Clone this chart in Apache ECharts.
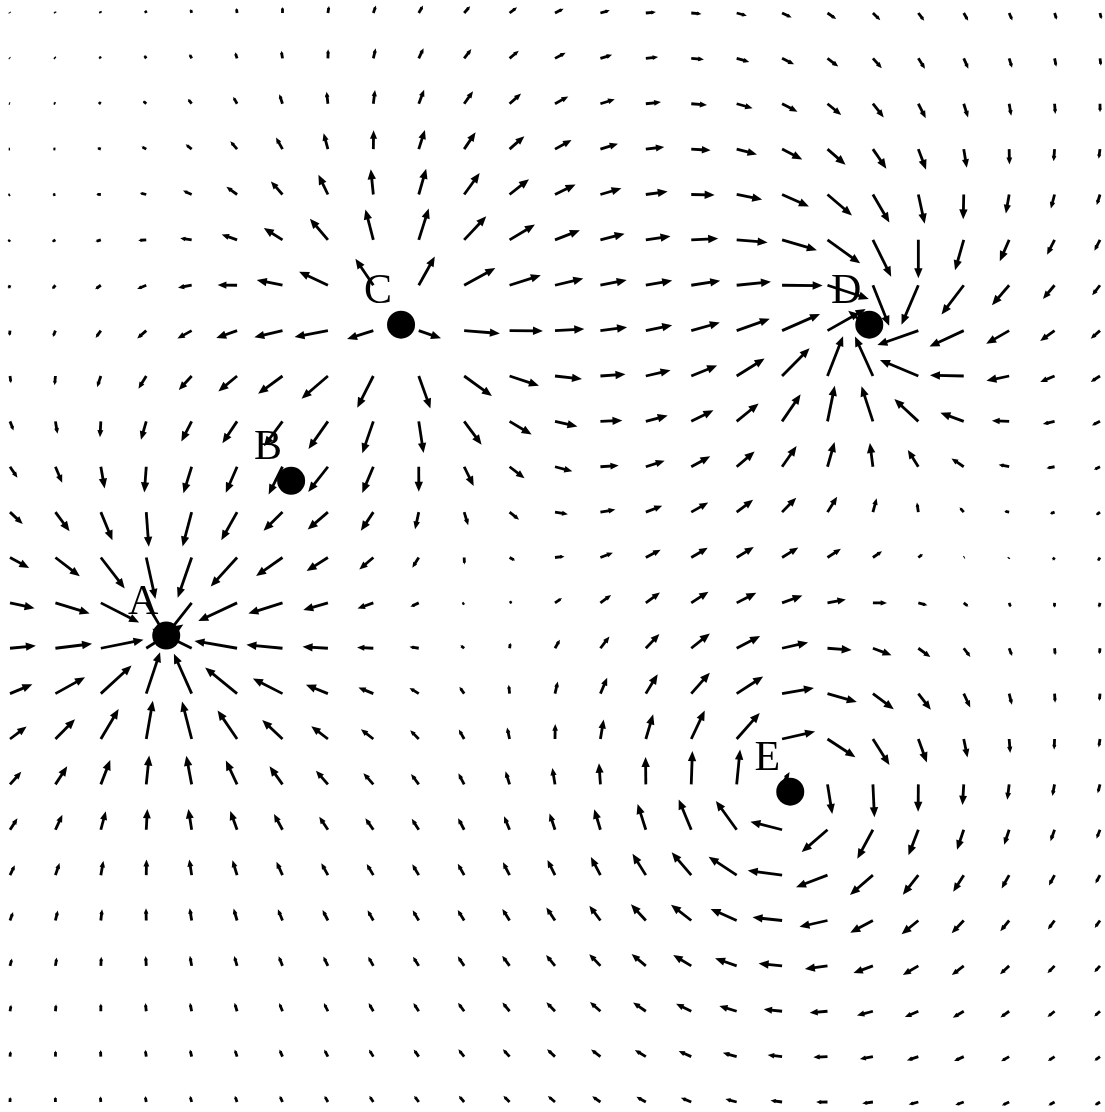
<!DOCTYPE html>
<html>
<head>
<meta charset="utf-8">
<script src="https://cdn.jsdelivr.net/npm/echarts@6/dist/echarts.min.js"></script>
<style>
html, body { margin: 0; padding: 0; background: #fff; }
#chart { width: 1105px; height: 1112px; }
</style>
</head>
<body>
<div id="chart"></div>
<script>
// sample lattice (grid units, one unit = one arrow spacing)
var cols = [0, 1, 2, 3, 4, 5, 6, 7, 8, 9, 10, 11, 12, 13, 14, 15, 16, 17, 18, 19, 20, 21, 22, 23, 24];
var rows = [0, 1, 2, 3, 4, 5, 6, 7, 8, 9, 10, 11, 12, 13, 14, 15, 16, 17, 18, 19, 20, 21, 22, 23, 24];

// the five marked points
var names = ["A", "B", "C", "D", "E"];
var pointX = [3.44, 6.19, 8.61, 18.92, 17.18];
var pointY = [13.72, 10.31, 6.87, 6.87, 17.16];
// + source / - sink, swirl > 0 is clockwise on screen
var sourceStrength = [-7.4, -0.3, 8.4, -6.5, 0];
var swirlStrength = [0, 0, 0, 2.9, 9.2];
var coreRadius = [0.8, 0.8, 1.9, 1.0, 1.98];

var PX = 45.4;      // pixels per grid unit
var maxLen = 44;    // arrow length limit, px
var falloff = 1.85; // field ~ 1/r^falloff far away

function field(x, y) {
  var vx = 0, vy = 0;
  for (var i = 0; i < names.length; i++) {
    var dx = x - pointX[i], dy = y - pointY[i];
    var d = Math.pow(dx * dx + dy * dy + coreRadius[i] * coreRadius[i], (falloff + 1) / 2);
    vx += (sourceStrength[i] * dx - swirlStrength[i] * dy) / d;
    vy += (sourceStrength[i] * dy + swirlStrength[i] * dx) / d;
  }
  var len = Math.sqrt(vx * vx + vy * vy) * PX;
  if (len > 0) {
    var r = maxLen * Math.tanh(len / maxLen);
    vx *= r / len;
    vy *= r / len;
  }
  return [vx, vy];
}

var arrows = [];
rows.forEach(function (gy) {
  cols.forEach(function (gx) {
    var v = field(gx, gy);
    arrows.push([gx, gy, v[0], v[1]]);
  });
});

var points = names.map(function (n, i) { return [pointX[i], pointY[i], n]; });

var chart = echarts.init(document.getElementById("chart"));
chart.setOption({
  animation: false,
  grid: { left: 0, right: 0, top: 0, bottom: 0 },
  xAxis: { type: "value", min: -10 / PX, max: 24 + 5 / PX, show: false },
  yAxis: { type: "value", inverse: true, min: -13 / PX, max: 24 + 10 / PX, show: false },
  series: [
    {
      type: "custom",
      data: arrows,
      renderItem: function (params, api) {
        var p0 = api.coord([api.value(0), api.value(1)]);
        var p1 = api.coord([api.value(0) + api.value(2), api.value(1) + api.value(3)]);
        var dx = p1[0] - p0[0], dy = p1[1] - p0[1];
        var len = Math.sqrt(dx * dx + dy * dy);
        if (len < 0.3) return;
        var ux = dx / len, uy = dy / len;
        var hl = Math.min(10, len * 0.45), hw = hl * 0.42;
        var bx = p1[0] - ux * hl, by = p1[1] - uy * hl;
        return {
          type: "group",
          children: [
            {
              type: "line",
              shape: { x1: p0[0], y1: p0[1], x2: p1[0] - ux * hl * 0.6, y2: p1[1] - uy * hl * 0.6 },
              style: { stroke: "#000", lineWidth: 2.8 }
            },
            {
              type: "polygon",
              shape: { points: [[p1[0], p1[1]], [bx - uy * hw, by + ux * hw], [bx + uy * hw, by - ux * hw]] },
              style: { fill: "#000" }
            }
          ]
        };
      }
    },
    {
      type: "scatter",
      data: points,
      symbolSize: 28,
      itemStyle: { color: "#000", opacity: 1 },
      z: 5,
      label: {
        show: true,
        position: "inside",
        offset: [-23, -33],
        formatter: function (p) { return p.data[2]; },
        fontFamily: "Liberation Serif",
        fontSize: 42,
        color: "#000"
      }
    }
  ]
});
</script>
</body>
</html>
